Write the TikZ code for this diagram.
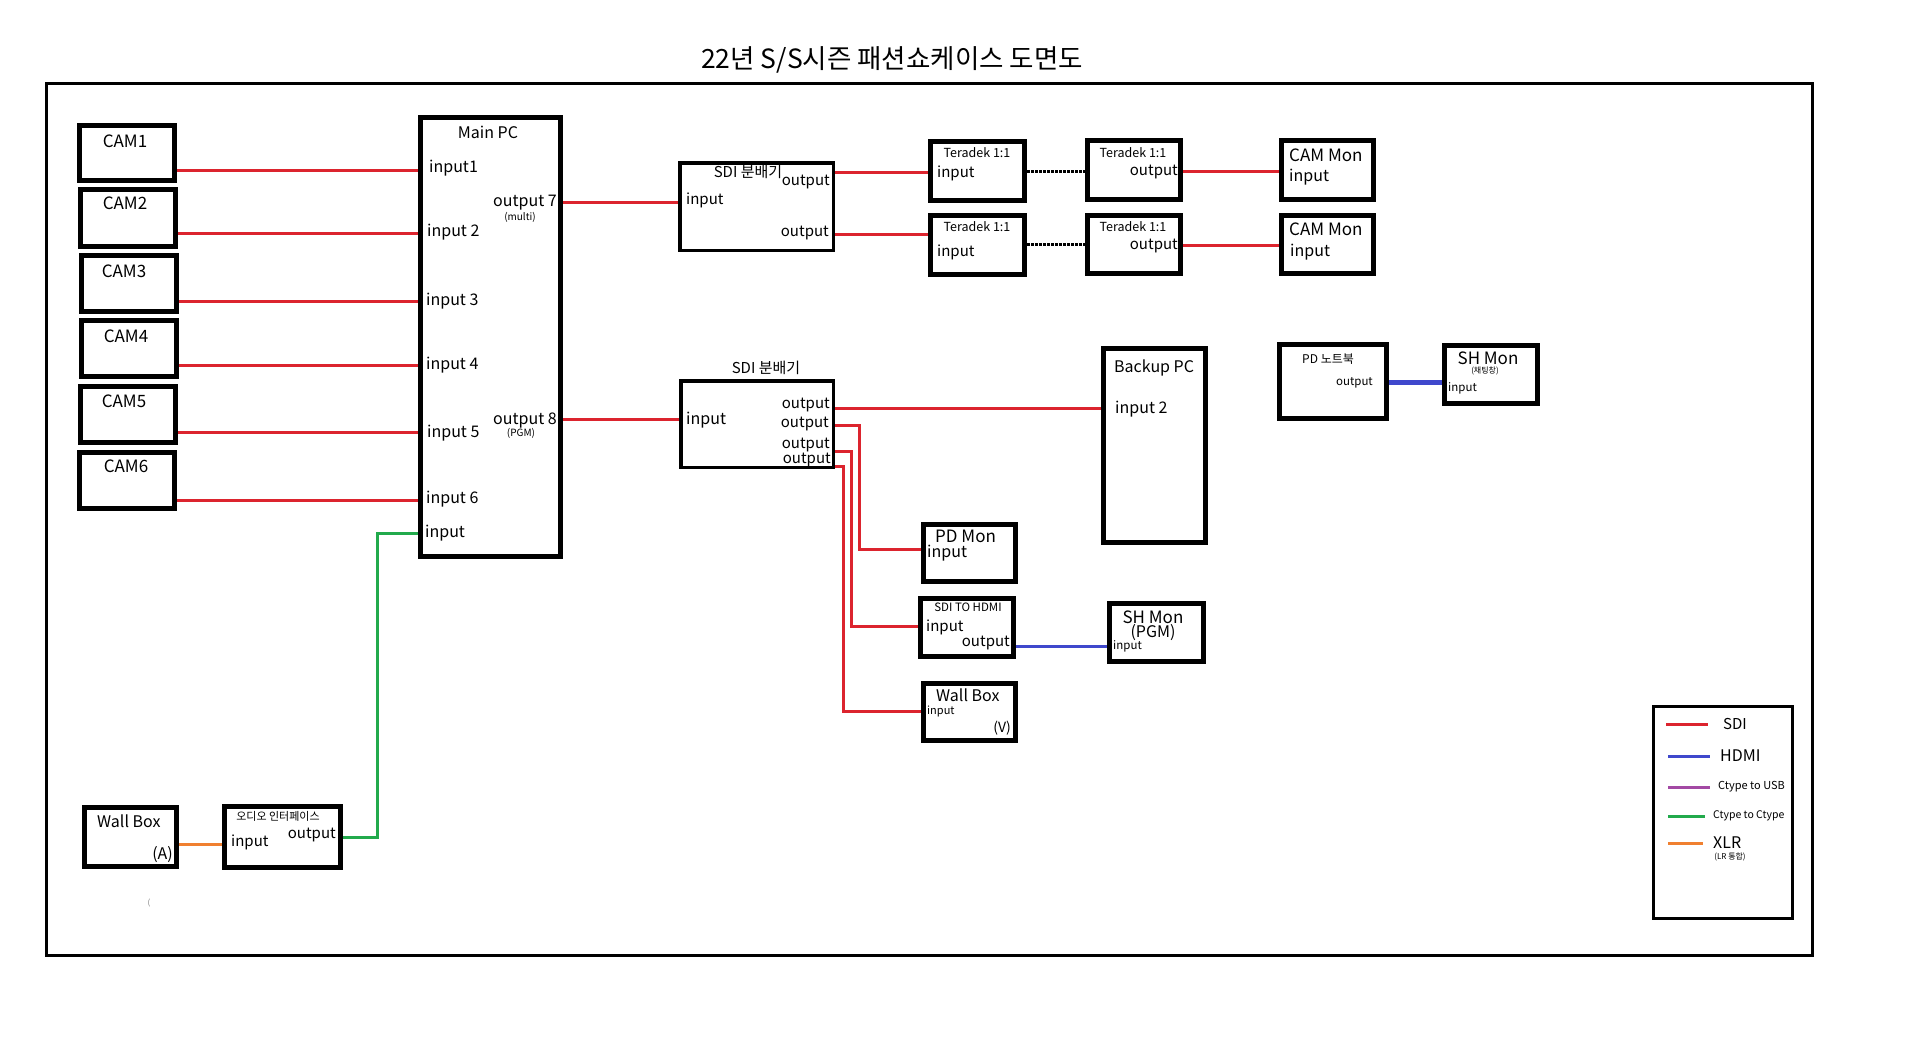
\documentclass[tikz,border=0pt]{standalone}
\usepackage{fontspec}
\setmainfont{Noto Sans CJK KR}
\definecolor{sdired}{RGB}{220,36,46}
\definecolor{hdmiblue}{RGB}{63,72,204}
\definecolor{ctgreen}{RGB}{34,170,76}
\definecolor{xlrorange}{RGB}{240,128,48}
\definecolor{usbpurple}{RGB}{163,73,164}
\newcommand\mkbox[6]{\node[draw, line width=#6, inner sep=0pt, minimum width={#4-#2-#6}, minimum height={#5-#3-#6}] (#1) at ({(#2+#4)/2},{(#3+#5)/2}) {};}
\tikzset{
  tx/.style={inner sep=0pt, font=\fontsize{#1}{#1}\selectfont},
  sdi/.style={draw=sdired, line width=3},
  hdmi/.style={draw=hdmiblue, line width=3},
  ctc/.style={draw=ctgreen, line width=3},
  xlr/.style={draw=xlrorange, line width=3},
  usb/.style={draw=usbpurple, line width=3},
  wireless/.style={draw=black, line width=3, dash pattern=on 2.5pt off 1.5pt}
}
\begin{document}
\begin{tikzpicture}[x=1pt,y=-1pt]
\useasboundingbox (0,0) rectangle (1914,1049);
\fill[white] (0,0) rectangle (1914,1049);
% title and frame
\node[tx=26.5] (title) at (892,60) {22년 S/S시즌 패션쇼케이스 도면도};
\draw[line width=3] (46,83) rectangle (1812,955);

% boxes
\mkbox{cam1}{77}{123}{177}{183}{5}
\mkbox{cam2}{78}{187}{178}{249}{5}
\mkbox{cam3}{79}{253}{179}{314}{5}
\mkbox{cam4}{79}{318}{179}{379}{5}
\mkbox{cam5}{78}{384}{178}{445}{5}
\mkbox{cam6}{77}{450}{177}{511}{5}
\mkbox{mainpc}{418}{115}{563}{559}{5}
\mkbox{splitA}{678}{161}{835}{252}{3.5}
\mkbox{teraA1}{928}{139}{1027}{203}{5}
\mkbox{teraA2}{928}{213}{1027}{277}{5}
\mkbox{teraB1}{1085}{138}{1183}{202}{5}
\mkbox{teraB2}{1085}{213}{1183}{276}{5}
\mkbox{cammon1}{1279}{138}{1376}{202}{5}
\mkbox{cammon2}{1279}{213}{1376}{276}{5}
\mkbox{splitB}{679}{379}{835}{469}{3.5}
\mkbox{backup}{1101}{346}{1208}{545}{5}
\mkbox{pdnb}{1277}{342}{1389}{421}{5}
\mkbox{shchat}{1442}{343}{1540}{406}{5}
\mkbox{pdmon}{921}{522}{1018}{584}{5}
\mkbox{sdihdmi}{918}{596}{1016}{659}{5}
\mkbox{wallv}{921}{681}{1018}{743}{5}
\mkbox{shpgm}{1107}{601}{1206}{664}{5}
\mkbox{walla}{82}{805}{179}{869}{5}
\mkbox{audio}{222}{804}{343}{870}{5}
\mkbox{legend}{1652}{705}{1794}{920}{3}

% texts: cameras
\node[tx=17] (tc1) at (125,141) {CAM1};
\node[tx=17] (tc2) at (125,203) {CAM2};
\node[tx=17] (tc3) at (124,271) {CAM3};
\node[tx=17] (tc4) at (126,336) {CAM4};
\node[tx=17] (tc5) at (124,401) {CAM5};
\node[tx=17] (tc6) at (126,466) {CAM6};
% main pc
\node[tx=16] (tmp) at (488,132) {Main PC};
\node[tx=16,anchor=west] (ti1) at (429,168) {input1};
\node[tx=16,anchor=west] (ti2) at (427,232) {input 2};
\node[tx=16,anchor=west] (ti3) at (426,301) {input 3};
\node[tx=16,anchor=west] (ti4) at (426,365) {input 4};
\node[tx=16,anchor=west] (ti5) at (427,433) {input 5};
\node[tx=16,anchor=west] (ti6) at (426,499) {input 6};
\node[tx=16,anchor=west] (ti7) at (425,533) {input};
\node[tx=16,anchor=east] (to7) at (557,203) {output 7};
\node[tx=10] (tmulti) at (520,217) {(multi)};
\node[tx=16,anchor=east] (to8) at (557,421) {output 8};
\node[tx=10] (tpgm) at (521,433) {(PGM)};
% splitter A
\node[tx=15] (tsa) at (748,172) {SDI 분배기};
\node[tx=15,anchor=east] (tsa1) at (830,182) {output};
\node[tx=15,anchor=west] (tsai) at (686,200) {input};
\node[tx=15,anchor=east] (tsa2) at (829,233) {output};
% teradeks
\node[tx=12.5] (tta1) at (977,153) {Teradek 1:1};
\node[tx=15,anchor=west] (tta1i) at (937,173) {input};
\node[tx=12.5] (tta2) at (977,227) {Teradek 1:1};
\node[tx=15,anchor=west] (tta2i) at (937,252) {input};
\node[tx=12.5] (ttb1) at (1133,153) {Teradek 1:1};
\node[tx=15,anchor=east] (ttb1o) at (1178,172) {output};
\node[tx=12.5] (ttb2) at (1133,227) {Teradek 1:1};
\node[tx=15,anchor=east] (ttb2o) at (1178,246) {output};
% cam mons
\node[tx=17,anchor=west] (tcm1) at (1289,155) {CAM Mon};
\node[tx=16,anchor=west] (tcm1i) at (1289,177) {input};
\node[tx=17,anchor=west] (tcm2) at (1289,229) {CAM Mon};
\node[tx=16,anchor=west] (tcm2i) at (1290,252) {input};
% splitter B
\node[tx=15] (tsb) at (766,368) {SDI 분배기};
\node[tx=16,anchor=west] (tsbi) at (686,420) {input};
\node[tx=15,anchor=east] (tsb1) at (830,405) {output};
\node[tx=15,anchor=east] (tsb2) at (829,424) {output};
\node[tx=15,anchor=east] (tsb3) at (830,445) {output};
\node[tx=15,anchor=east] (tsb4) at (831,460) {output};
% backup pc
\node[tx=16,anchor=west] (tbk) at (1114,368) {Backup PC};
\node[tx=16,anchor=west] (tbki) at (1115,409) {input 2};
% pd notebook and sh mon chat
\node[tx=12,anchor=west] (tnb) at (1302,359) {PD 노트북};
\node[tx=11.5,anchor=east] (tnbo) at (1373,383) {output};
\node[tx=17] (tsh1) at (1488,358) {SH Mon};
\node[tx=8] (tsh1c) at (1485,371) {(채팅창)};
\node[tx=11.5,anchor=west] (tsh1i) at (1448,388) {input};
% pd mon, sdi to hdmi, wall box v
\node[tx=17,anchor=west] (tpdm) at (935,536) {PD Mon};
\node[tx=16,anchor=west] (tpdmi) at (927,553) {input};
\node[tx=11.5] (ts2h) at (968,607) {SDI TO HDMI};
\node[tx=15,anchor=west] (ts2hi) at (926,627) {input};
\node[tx=15,anchor=east] (ts2ho) at (1010,643) {output};
\node[tx=16,anchor=west] (twv) at (936,695) {Wall Box};
\node[tx=11,anchor=west] (twvi) at (927,711) {input};
\node[tx=14,anchor=east] (twvv) at (1011,728) {(V)};
% sh mon pgm
\node[tx=17] (tshp) at (1153,617) {SH Mon};
\node[tx=16] (tshpp) at (1153,633) {(PGM)};
\node[tx=11.5,anchor=west] (tshpi) at (1113,646) {input};
% wall box a, audio interface
\node[tx=16,anchor=west] (twa) at (97,821) {Wall Box};
\node[tx=16,anchor=east] (twaa) at (173,855) {(A)};
\node[tx=11] (tau) at (278,816) {오디오 인터페이스};
\node[tx=15,anchor=west] (taui) at (231,842) {input};
\node[tx=15,anchor=east] (tauo) at (336,835) {output};
\node[tx=8,text=gray] (tparen) at (149,903) {(};

% connectors: cameras to main pc
\draw[sdi] (cam1.east |- 0,170) -- (mainpc.west |- 0,170);
\draw[sdi] (cam2.east |- 0,233) -- (mainpc.west |- 0,233);
\draw[sdi] (cam3.east |- 0,301) -- (mainpc.west |- 0,301);
\draw[sdi] (cam4.east |- 0,365) -- (mainpc.west |- 0,365);
\draw[sdi] (cam5.east |- 0,432) -- (mainpc.west |- 0,432);
\draw[sdi] (cam6.east |- 0,500) -- (mainpc.west |- 0,500);
% main pc to splitters
\draw[sdi] (mainpc.east |- 0,202) -- (splitA.west |- 0,202);
\draw[sdi] (mainpc.east |- 0,419) -- (splitB.west |- 0,419);
% splitter A to teradeks
\draw[sdi] (splitA.east |- 0,172) -- (teraA1.west |- 0,172);
\draw[sdi] (splitA.east |- 0,234) -- (teraA2.west |- 0,234);
\draw[wireless] (teraA1.east |- 0,171) -- (teraB1.west |- 0,171);
\draw[wireless] (teraA2.east |- 0,244) -- (teraB2.west |- 0,244);
\draw[sdi] (teraB1.east |- 0,171) -- (cammon1.west |- 0,171);
\draw[sdi] (teraB2.east |- 0,245) -- (cammon2.west |- 0,245);
% splitter B outputs
\draw[sdi] (splitB.east |- 0,408) -- (backup.west |- 0,408);
\draw[sdi] (splitB.east |- 0,425) -- (859,425) -- (859,549) -- (pdmon.west |- 0,549);
\draw[sdi] (splitB.east |- 0,451) -- (851,451) -- (851,626) -- (sdihdmi.west |- 0,626);
\draw[sdi] (splitB.east |- 0,466) -- (843,466) -- (843,711) -- (wallv.west |- 0,711);
% hdmi
\draw[hdmi] (sdihdmi.east |- 0,646) -- (shpgm.west |- 0,646);
\draw[hdmi, line width=5] (pdnb.east |- 0,382) -- (shchat.west |- 0,382);
% audio
\draw[xlr] (walla.east |- 0,844) -- (audio.west |- 0,844);
\draw[ctc] (audio.east |- 0,837) -- (377,837) -- (377,533) -- (mainpc.west |- 0,533);

% legend
\draw[sdi] (1666,724) -- (1708,724);
\node[tx=15,anchor=west] (lg1) at (1723,724) {SDI};
\draw[hdmi] (1668,756) -- (1710,756);
\node[tx=16,anchor=west] (lg2) at (1720,756) {HDMI};
\draw[usb] (1668,787) -- (1710,787);
\node[tx=11,anchor=west] (lg3) at (1718,787) {Ctype to USB};
\draw[ctc] (1668,816) -- (1705,816);
\node[tx=10.5,anchor=west] (lg4) at (1713,816) {Ctype to Ctype};
\draw[xlr] (1668,843) -- (1703,843);
\node[tx=16,anchor=west] (lg5) at (1713,843) {XLR};
\node[tx=8] (lg6) at (1730,857) {(LR 통합)};
\end{tikzpicture}
\end{document}
